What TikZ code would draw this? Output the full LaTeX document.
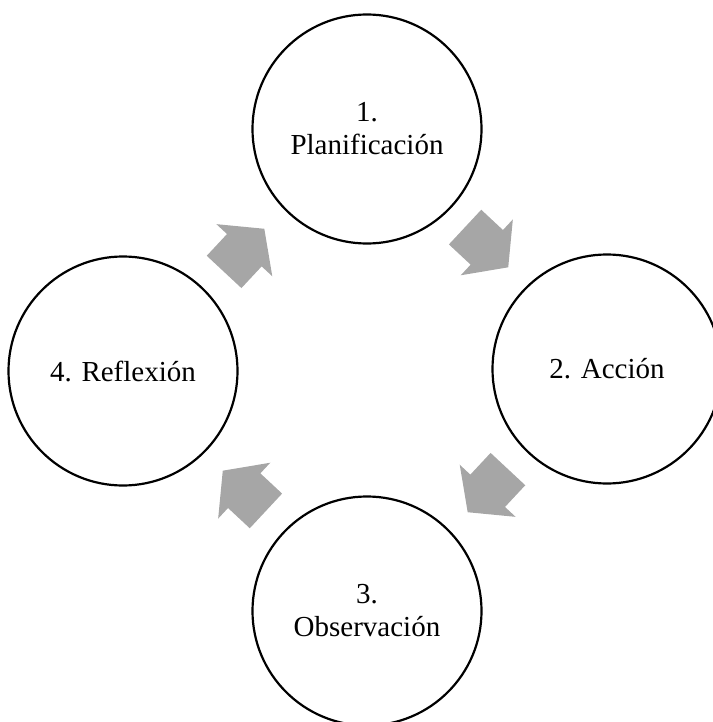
\documentclass[tikz,border=0pt]{standalone}
\usepackage{fontspec}
\setmainfont{Liberation Serif}
\usetikzlibrary{shapes.arrows}
\definecolor{arrowgray}{HTML}{A6A6A6}
\newcommand{\unitsize}{1pt}

\begin{document}
\begin{tikzpicture}[x=\unitsize,y=-\unitsize]
\useasboundingbox (0,0) rectangle (712,722);
\tikzstyle{every node}=[inner sep=0pt]
\tikzstyle{stage}=[draw,
			circle,
			line width=2.2pt,
			minimum size=229*\unitsize,
			align=center,
			font=\fontsize{29}{33}\selectfont
			]
\tikzstyle{cyclearrow}=[single arrow,
			fill=arrowgray,
			inner xsep=0pt,
			inner ysep=23.5*\unitsize,
			minimum height=59*\unitsize,
			single arrow head extend=14.5*\unitsize,
			single arrow tip angle=105
			]


\node[stage] (plan) at (367,129) {1.\\Planificación};
        

\node[stage] (accion) at (607,369) {2. Acción};
        

\node[stage] (observ) at (367,611) {3.\\Observación};
        

\node[stage] (reflex) at (123,371) {4. Reflexión};
        

\node[cyclearrow, rotate=47] (arrowA) at (238,257) {};
        

\node[cyclearrow, rotate=-43] (arrowB) at (480,241) {};
        

\node[cyclearrow, rotate=-133] (arrowC) at (494,484) {};
        

\node[cyclearrow, rotate=137] (arrowD) at (251,497) {};
            

\end{tikzpicture}
\end{document}
